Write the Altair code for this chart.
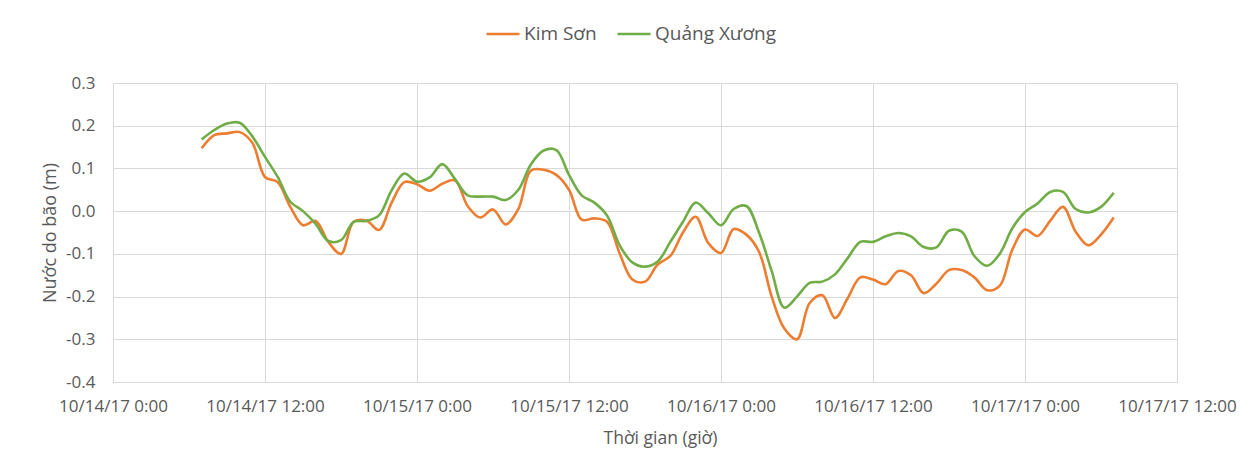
import json
import altair as alt
import pandas as pd

# hours since 10/14/17 0:00
hours = list(range(7, 80))

kim_son = [
    0.147, 0.178, 0.182, 0.185, 0.160, 0.080, 0.068, 0.010, -0.033, -0.023,
    -0.072, -0.100, -0.025, -0.022, -0.044, 0.020, 0.068, 0.063, 0.048, 0.064,
    0.072, 0.012, -0.015, 0.004, -0.031, 0.005, 0.095, 0.097, 0.085, 0.050,
    -0.020, -0.017, -0.025, -0.099, -0.160, -0.165, -0.125, -0.105, -0.050, -0.013,
    -0.075, -0.098, -0.042, -0.055, -0.095, -0.200, -0.275, -0.300, -0.215, -0.197,
    -0.250, -0.204, -0.155, -0.160, -0.171, -0.140, -0.150, -0.192, -0.170, -0.138,
    -0.138, -0.155, -0.185, -0.175, -0.090, -0.043, -0.058, -0.022, 0.010, -0.048,
    -0.080, -0.055, -0.015,
]

quang_xuong = [
    0.168, 0.190, 0.205, 0.207, 0.175, 0.127, 0.080, 0.022, 0.000, -0.030,
    -0.070, -0.068, -0.025, -0.023, -0.010, 0.049, 0.088, 0.069, 0.079, 0.110,
    0.075, 0.037, 0.034, 0.034, 0.026, 0.050, 0.110, 0.142, 0.143, 0.085,
    0.037, 0.020, -0.010, -0.080, -0.120, -0.130, -0.118, -0.072, -0.025, 0.020,
    -0.005, -0.033, 0.005, 0.012, -0.050, -0.140, -0.226, -0.200, -0.168, -0.165,
    -0.148, -0.110, -0.072, -0.072, -0.059, -0.051, -0.059, -0.084, -0.085, -0.046,
    -0.048, -0.105, -0.128, -0.100, -0.040, -0.002, 0.018, 0.045, 0.045, 0.005,
    -0.003, 0.010, 0.043,
]

series_names = ["Kim Sơn", "Quảng Xương"]
series_colors = ["#ED7D31", "#70AD47"]

x_tick_values = [0, 12, 24, 36, 48, 60, 72, 84]
x_tick_labels = [
    "10/14/17 0:00", "10/14/17 12:00", "10/15/17 0:00", "10/15/17 12:00",
    "10/16/17 0:00", "10/16/17 12:00", "10/17/17 0:00", "10/17/17 12:00",
]
y_tick_values = [-0.4, -0.3, -0.2, -0.1, 0.0, 0.1, 0.2, 0.3]

rows = []
for h, v in zip(hours, kim_son):
    rows.append({"hour": h, "value": v, "series": series_names[0]})
for h, v in zip(hours, quang_xuong):
    rows.append({"hour": h, "value": v, "series": series_names[1]})
df = pd.DataFrame(rows)

label_expr_x = json.dumps(x_tick_labels) + "[round(datum.value / 12)]"
label_expr_y = "datum.value < -0.0001 ? '-' + format(-datum.value, '.1f') : format(abs(datum.value), '.1f')"

text_color = "#595959"
font = "Open Sans"

chart = alt.Chart(df).mark_line(
    interpolate="catmull-rom", strokeWidth=2.6
).encode(
    x=alt.X(
        "hour:Q",
        scale=alt.Scale(domain=[0, 84], nice=False, zero=False),
        axis=alt.Axis(
            values=x_tick_values,
            labelExpr=label_expr_x,
            title="Thời gian (giờ)",
            titleX=547,
            titlePadding=15,
            labelPadding=16,
            ticks=False,
            grid=True,
            gridColor="#D9D9D9",
            domainColor="#D9D9D9",
            labelFontSize=17,
            titleFontSize=17.5,
            labelColor=text_color,
            titleColor=text_color,
            labelFont=font,
            titleFont=font,
            titleFontWeight="normal",
            labelOverlap=False,
            labelFlush=False,
        ),
    ),
    y=alt.Y(
        "value:Q",
        scale=alt.Scale(domain=[-0.4, 0.3], nice=False, zero=False),
        axis=alt.Axis(
            values=y_tick_values,
            labelExpr=label_expr_y,
            title="Nước do bão (m)",
            titlePadding=6,
            labelPadding=18,
            ticks=False,
            grid=True,
            gridColor="#D9D9D9",
            domainColor="#D9D9D9",
            labelFontSize=17,
            titleFontSize=18,
            labelColor=text_color,
            titleColor=text_color,
            labelFont=font,
            titleFont=font,
            titleFontWeight="normal",
            labelOverlap=False,
        ),
    ),
    color=alt.Color(
        "series:N",
        scale=alt.Scale(domain=series_names, range=series_colors),
        legend=alt.Legend(
            title=None,
            orient="none",
            legendX=372,
            legendY=-67,
            direction="horizontal",
            symbolType="stroke",
            symbolSize=1089,
            symbolStrokeWidth=2.6,
            labelFontSize=19,
            labelFont=font,
            labelColor=text_color,
            labelOffset=3,
            columnPadding=15,
        ),
    ),
).properties(
    width=1064,
    height=299,
    autosize=alt.AutoSizeParams(type="none"),
    padding={"left": 105, "top": 75, "right": 60, "bottom": 70},
).configure_view(
    stroke=None
)

chart.save("out.html", embed_options={"renderer": "svg", "actions": False})
